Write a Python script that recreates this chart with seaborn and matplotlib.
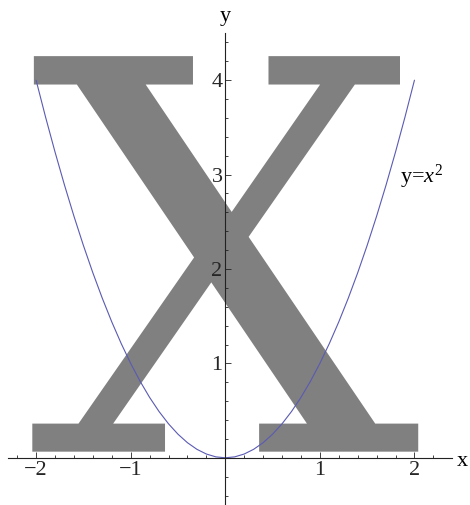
import matplotlib
matplotlib.use("Agg")
import matplotlib.pyplot as plt
import seaborn as sns
import pandas as pd
from matplotlib.textpath import TextPath
from matplotlib.patches import PathPatch
from matplotlib.font_manager import FontProperties
from matplotlib.transforms import Affine2D
from matplotlib.ticker import FixedLocator, MultipleLocator

###########################################################################################
######                                  data                                         ######
###########################################################################################
# the parabola y = x^2, every 0.1
curve_x = [-2.0, -1.9, -1.8, -1.7, -1.6, -1.5, -1.4, -1.3, -1.2, -1.1, -1.0,
           -0.9, -0.8, -0.7, -0.6, -0.5, -0.4, -0.3, -0.2, -0.1, 0.0,
           0.1, 0.2, 0.3, 0.4, 0.5, 0.6, 0.7, 0.8, 0.9, 1.0,
           1.1, 1.2, 1.3, 1.4, 1.5, 1.6, 1.7, 1.8, 1.9, 2.0]
curve_y = [4.00, 3.61, 3.24, 2.89, 2.56, 2.25, 1.96, 1.69, 1.44, 1.21, 1.00,
           0.81, 0.64, 0.49, 0.36, 0.25, 0.16, 0.09, 0.04, 0.01, 0.00,
           0.01, 0.04, 0.09, 0.16, 0.25, 0.36, 0.49, 0.64, 0.81, 1.00,
           1.21, 1.44, 1.69, 1.96, 2.25, 2.56, 2.89, 3.24, 3.61, 4.00]

# the big letter and the box it fills (data units)
letter = "X"
letter_x = [-2.04, 2.04]
letter_y = [0.065, 4.255]

x_ticks = [-2, -1, 1, 2]
y_ticks = [1, 2, 3, 4]
curve_label = r"y=$x^2$"
label_pos = (1.85, 2.98)

###########################################################################################
######                                  plot                                         ######
###########################################################################################
sns.set_style("white")
plt.rcParams["font.family"] = ["Liberation Serif", "DejaVu Serif"]
plt.rcParams["mathtext.fontset"] = "custom"
plt.rcParams["mathtext.rm"] = "Liberation Serif"
plt.rcParams["mathtext.it"] = "Liberation Serif:italic"
plt.rcParams["text.color"] = "black"

fig = plt.figure(figsize=(4.7, 5.05), dpi=100)
ax = fig.add_axes([8 / 470, 0, 444 / 470, 472 / 505])
ax.set_xlim(-2.297, 2.397)
ax.set_ylim(-0.5, 4.5)
ax.set_axisbelow(False)

# letter glyph stretched into its box
tp = TextPath((0, 0), letter, size=1, prop=FontProperties(family="DejaVu Serif"))
ext = tp.get_extents()
tr = (Affine2D()
      .translate(-ext.x0, -ext.y0)
      .scale((letter_x[1] - letter_x[0]) / ext.width, (letter_y[1] - letter_y[0]) / ext.height)
      .translate(letter_x[0], letter_y[0]))
ax.add_patch(PathPatch(tr.transform_path(tp), facecolor="#808080", edgecolor="none", zorder=1))

df = pd.DataFrame({"x": curve_x, "y": curve_y})
sns.lineplot(data=df, x="x", y="y", color="#5a5ab4", linewidth=0.8, estimator=None, sort=False, ax=ax, zorder=3)

ax.text(label_pos[0], label_pos[1], curve_label, fontsize=16, ha="left", va="center")

# axes through the origin
for s in ["top", "right"]:
    ax.spines[s].set_visible(False)
for s in ["left", "bottom"]:
    ax.spines[s].set_position(("data", 0))
    ax.spines[s].set_linewidth(0.8)
    ax.spines[s].set_color("#222222")
    ax.spines[s].set_zorder(4)

ax.xaxis.set_major_locator(FixedLocator(x_ticks))
ax.yaxis.set_major_locator(FixedLocator(y_ticks))
ax.xaxis.set_minor_locator(MultipleLocator(0.2))
ax.yaxis.set_minor_locator(MultipleLocator(0.2))
ax.tick_params(which="both", direction="in", color="#222222", width=0.6)
ax.tick_params(which="major", length=4.5, labelsize=16, pad=2)
ax.tick_params(which="minor", length=2.5)
ax.tick_params(axis="x", which="both", bottom=True)
ax.tick_params(axis="y", which="both", left=True)

ax.set_xlabel("")
ax.set_ylabel("")
ax.annotate("x", xy=(1, 0), xycoords=("axes fraction", "data"), xytext=(3.6, -5.8),
            textcoords="offset points", fontsize=16, ha="left", va="baseline")
ax.annotate("y", xy=(0, 1), xycoords=("data", "axes fraction"), xytext=(0, 8.6),
            textcoords="offset points", fontsize=16, ha="center", va="baseline")

fig.savefig("out.png", dpi=100)
